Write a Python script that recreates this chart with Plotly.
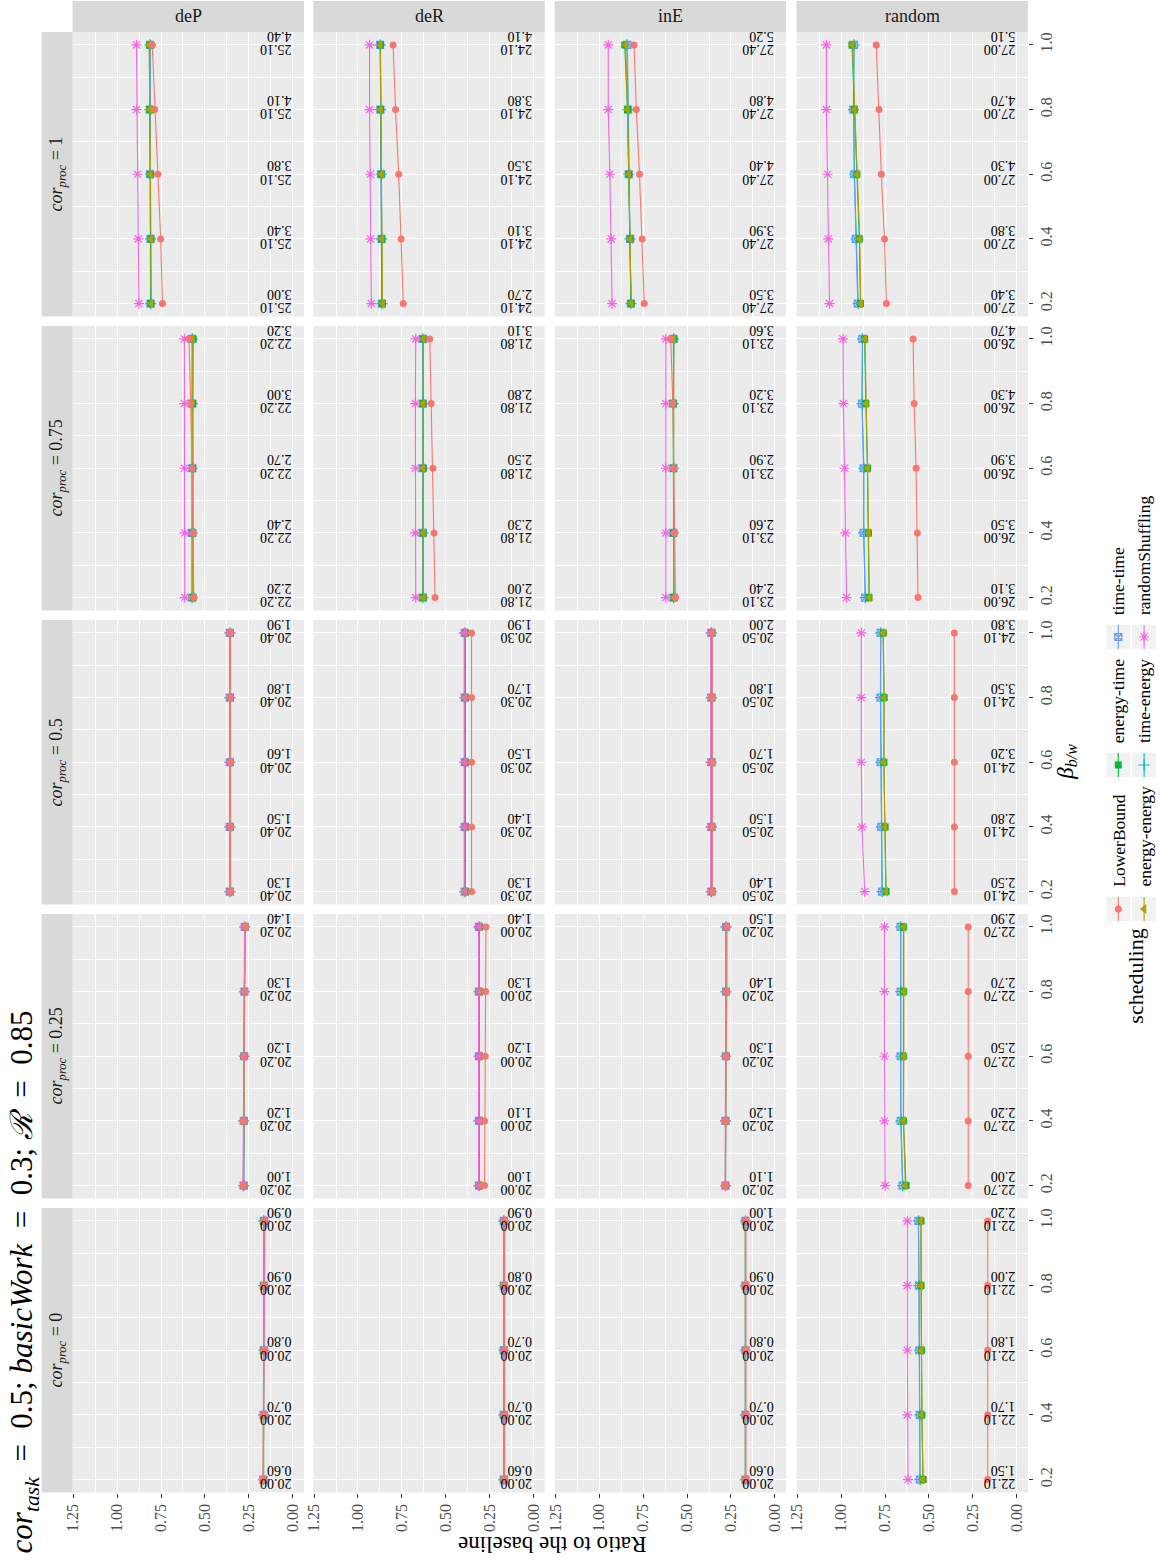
import plotly.graph_objects as go

W, H = 1160, 1560
FONT = "Liberation Serif"

# ---------------- data ----------------
METHODS = ["deP", "deR", "inE", "random"]
COR_PROC = ["1", "0.75", "0.5", "0.25", "0"]          # rows, top to bottom
BETA = [0.2, 0.4, 0.6, 0.8, 1.0]
BETA_TICKTEXT = ["0.2", "0.4", "0.6", "0.8", "1.0"]
RATIO_TICKS = [0, 0.25, 0.5, 0.75, 1.0, 1.25]
RATIO_TICKTEXT = ["0.00", "0.25", "0.50", "0.75", "1.00", "1.25"]
RATIO_MINOR = [0.125, 0.375, 0.625, 0.875, 1.125]
BETA_MINOR = [0.3, 0.5, 0.7, 0.9]

SCHEDULING = ["LowerBound", "energy-energy", "energy-time", "time-energy", "time-time", "randomShuffling"]
COLORS = ["#F8766D", "#B79F00", "#00BA38", "#00BFC4", "#619CFF", "#F564E3"]
SYMBOLS = ["circle", "triangle-left", "square", "cross-thin-open", "square-x-open", "asterisk-open"]
SIZES = [7, 8.5, 7, 8, 7, 8.5]

# values[row(cor_proc)][col(method)][beta]
LOWER_BOUND = [
    [[0.742, 0.752, 0.768, 0.786, 0.800], [0.742, 0.754, 0.768, 0.786, 0.800], [0.744, 0.756, 0.771, 0.789, 0.802], [0.742, 0.753, 0.771, 0.784, 0.800]],
    [[0.563, 0.567, 0.573, 0.581, 0.591], [0.561, 0.567, 0.573, 0.583, 0.591], [0.566, 0.570, 0.577, 0.581, 0.593], [0.562, 0.566, 0.573, 0.584, 0.590]],
    [[0.354, 0.354, 0.355, 0.355, 0.354], [0.353, 0.353, 0.353, 0.353, 0.353], [0.357, 0.357, 0.357, 0.357, 0.357], [0.355, 0.355, 0.355, 0.355, 0.355]],
    [[0.281, 0.281, 0.277, 0.273, 0.269], [0.279, 0.279, 0.275, 0.273, 0.271], [0.282, 0.282, 0.278, 0.273, 0.273], [0.276, 0.276, 0.276, 0.276, 0.276]],
    [[0.169, 0.166, 0.165, 0.165, 0.165], [0.164, 0.164, 0.164, 0.164, 0.164], [0.165, 0.165, 0.165, 0.165, 0.165], [0.165, 0.165, 0.165, 0.165, 0.165]],
]
ENERGY_ENERGY = [
    [[0.806, 0.807, 0.810, 0.814, 0.818], [0.860, 0.863, 0.866, 0.871, 0.873], [0.818, 0.823, 0.832, 0.840, 0.850], [0.888, 0.894, 0.908, 0.924, 0.936]],
    [[0.570, 0.570, 0.571, 0.571, 0.570], [0.628, 0.628, 0.630, 0.630, 0.628], [0.576, 0.576, 0.578, 0.578, 0.576], [0.839, 0.843, 0.849, 0.857, 0.864]],
    [[0.357, 0.357, 0.357, 0.357, 0.357], [0.390, 0.390, 0.390, 0.390, 0.390], [0.360, 0.360, 0.360, 0.360, 0.360], [0.745, 0.750, 0.757, 0.756, 0.761]],
    [[0.280, 0.280, 0.277, 0.275, 0.272], [0.310, 0.310, 0.310, 0.310, 0.310], [0.281, 0.281, 0.279, 0.278, 0.277], [0.634, 0.645, 0.643, 0.643, 0.643]],
    [[0.166, 0.166, 0.165, 0.164, 0.164], [0.169, 0.169, 0.169, 0.169, 0.169], [0.168, 0.168, 0.168, 0.168, 0.168], [0.535, 0.541, 0.543, 0.545, 0.546]],
]
ENERGY_TIME = [
    [[0.808, 0.808, 0.812, 0.815, 0.816], [0.862, 0.864, 0.868, 0.872, 0.872], [0.819, 0.824, 0.833, 0.839, 0.855], [0.890, 0.896, 0.910, 0.925, 0.938]],
    [[0.567, 0.569, 0.570, 0.569, 0.567], [0.629, 0.629, 0.629, 0.629, 0.629], [0.575, 0.577, 0.577, 0.579, 0.575], [0.841, 0.844, 0.850, 0.859, 0.866]],
    [[0.356, 0.356, 0.356, 0.356, 0.356], [0.389, 0.389, 0.389, 0.389, 0.389], [0.359, 0.359, 0.359, 0.359, 0.359], [0.744, 0.749, 0.756, 0.755, 0.760]],
    [[0.281, 0.281, 0.277, 0.275, 0.272], [0.309, 0.309, 0.309, 0.309, 0.309], [0.282, 0.282, 0.279, 0.278, 0.277], [0.630, 0.645, 0.645, 0.645, 0.645]],
    [[0.166, 0.166, 0.165, 0.164, 0.164], [0.168, 0.168, 0.168, 0.168, 0.168], [0.167, 0.167, 0.167, 0.167, 0.167], [0.533, 0.540, 0.542, 0.545, 0.545]],
]
TIME_ENERGY = [
    [[0.809, 0.810, 0.811, 0.813, 0.812], [0.863, 0.865, 0.867, 0.871, 0.873], [0.820, 0.825, 0.832, 0.837, 0.842], [0.903, 0.914, 0.924, 0.929, 0.926]],
    [[0.573, 0.572, 0.572, 0.572, 0.572], [0.630, 0.630, 0.630, 0.630, 0.630], [0.577, 0.577, 0.577, 0.579, 0.577], [0.862, 0.871, 0.871, 0.880, 0.878]],
    [[0.357, 0.357, 0.357, 0.357, 0.357], [0.390, 0.390, 0.390, 0.390, 0.390], [0.361, 0.361, 0.361, 0.361, 0.361], [0.766, 0.770, 0.774, 0.775, 0.774]],
    [[0.279, 0.279, 0.276, 0.275, 0.273], [0.310, 0.310, 0.310, 0.310, 0.310], [0.281, 0.281, 0.279, 0.278, 0.278], [0.649, 0.659, 0.660, 0.660, 0.660]],
    [[0.167, 0.166, 0.165, 0.165, 0.165], [0.169, 0.169, 0.169, 0.169, 0.169], [0.168, 0.168, 0.168, 0.168, 0.168], [0.550, 0.551, 0.554, 0.556, 0.559]],
]
TIME_TIME = [
    [[0.810, 0.810, 0.812, 0.814, 0.812], [0.864, 0.866, 0.868, 0.872, 0.874], [0.820, 0.824, 0.832, 0.836, 0.840], [0.905, 0.916, 0.925, 0.930, 0.927]],
    [[0.574, 0.573, 0.572, 0.573, 0.573], [0.631, 0.631, 0.631, 0.631, 0.631], [0.577, 0.578, 0.578, 0.580, 0.578], [0.863, 0.872, 0.872, 0.881, 0.879]],
    [[0.358, 0.358, 0.358, 0.358, 0.358], [0.391, 0.391, 0.391, 0.391, 0.391], [0.361, 0.361, 0.361, 0.361, 0.361], [0.767, 0.771, 0.775, 0.776, 0.775]],
    [[0.278, 0.278, 0.276, 0.275, 0.273], [0.311, 0.311, 0.311, 0.311, 0.311], [0.281, 0.281, 0.279, 0.278, 0.278], [0.650, 0.660, 0.661, 0.661, 0.661]],
    [[0.167, 0.166, 0.165, 0.165, 0.165], [0.170, 0.170, 0.170, 0.170, 0.170], [0.168, 0.168, 0.168, 0.168, 0.168], [0.551, 0.552, 0.555, 0.557, 0.560]],
]
RANDOM_SHUFFLING = [
    [[0.876, 0.880, 0.884, 0.890, 0.890], [0.924, 0.928, 0.930, 0.934, 0.934], [0.927, 0.932, 0.940, 0.949, 0.949], [1.066, 1.073, 1.077, 1.084, 1.084]],
    [[0.615, 0.615, 0.617, 0.617, 0.617], [0.671, 0.673, 0.673, 0.673, 0.671], [0.621, 0.621, 0.621, 0.621, 0.621], [0.969, 0.976, 0.980, 0.987, 0.989]],
    [[0.360, 0.360, 0.360, 0.360, 0.360], [0.395, 0.395, 0.395, 0.395, 0.395], [0.366, 0.366, 0.366, 0.366, 0.366], [0.866, 0.881, 0.885, 0.885, 0.885]],
    [[0.283, 0.280, 0.276, 0.276, 0.274], [0.313, 0.313, 0.313, 0.313, 0.313], [0.283, 0.282, 0.280, 0.279, 0.279], [0.749, 0.753, 0.753, 0.753, 0.753]],
    [[0.168, 0.167, 0.163, 0.160, 0.158], [0.168, 0.168, 0.168, 0.168, 0.168], [0.167, 0.167, 0.167, 0.167, 0.167], [0.619, 0.623, 0.623, 0.623, 0.623]],
]

# text labels in each panel: first line (constant per panel) and second line (per beta)
TEXT_A = [
    [25.10, 24.10, 27.40, 27.00],
    [22.20, 21.80, 23.10, 26.00],
    [20.40, 20.30, 20.50, 24.10],
    [20.20, 20.00, 20.20, 22.70],
    [20.00, 20.00, 20.00, 22.10],
]
TEXT_B = [
    [[3.00, 3.40, 3.80, 4.10, 4.40], [2.70, 3.10, 3.50, 3.80, 4.10], [3.50, 3.90, 4.40, 4.80, 5.20], [3.40, 3.80, 4.30, 4.70, 5.10]],
    [[2.20, 2.40, 2.70, 3.00, 3.20], [2.00, 2.30, 2.50, 2.80, 3.10], [2.40, 2.60, 2.90, 3.20, 3.60], [3.10, 3.50, 3.90, 4.30, 4.70]],
    [[1.30, 1.50, 1.60, 1.80, 1.90], [1.30, 1.40, 1.50, 1.70, 1.90], [1.40, 1.50, 1.70, 1.80, 2.00], [2.50, 2.80, 3.20, 3.50, 3.80]],
    [[1.00, 1.20, 1.20, 1.30, 1.40], [1.00, 1.10, 1.20, 1.30, 1.40], [1.10, 1.20, 1.30, 1.40, 1.50], [2.00, 2.20, 2.50, 2.70, 2.90]],
    [[0.60, 0.70, 0.80, 0.90, 0.90], [0.60, 0.70, 0.70, 0.80, 0.90], [0.60, 0.70, 0.80, 0.90, 1.00], [1.50, 1.70, 1.80, 2.00, 2.20]],
]

SERIES = [LOWER_BOUND, ENERGY_ENERGY, ENERGY_TIME, TIME_ENERGY, TIME_TIME, RANDOM_SHUFFLING]
DRAW_ORDER = [3, 4, 2, 1, 5, 0]

# ---------------- layout geometry (pixels) ----------------
COL_LEFT = [65.0, 307.5, 550.5, 794.0]
PANEL_W = 233.0
ROW_TOP = [32.0, 326.0, 620.0, 914.0, 1208.0]
PANEL_H = 284.5
STRIP_LEFT = [34.0, 65.0]
X_RANGE = [1.254, -0.064]
Y_RANGE = [0.16, 1.04]


def px(x):
    return x / W


def py(y):
    return 1 - y / H


fig = go.Figure()
layout = {}
shapes = []
annotations = []

tickfont = dict(family=FONT, size=16, color="#4D4D4D")

for r in range(5):
    for c in range(4):
        k = r * 4 + c + 1
        xname = "xaxis" if k == 1 else f"xaxis{k}"
        yname = "yaxis" if k == 1 else f"yaxis{k}"
        xr = "x" if k == 1 else f"x{k}"
        yr = "y" if k == 1 else f"y{k}"
        L = COL_LEFT[c]
        T = ROW_TOP[r]
        layout[xname] = dict(
            domain=[px(L), px(L + PANEL_W)], range=X_RANGE, anchor=yr,
            tickmode="array", tickvals=RATIO_TICKS, ticktext=RATIO_TICKTEXT,
            showticklabels=(r == 4), ticks="outside" if r == 4 else "",
            ticklen=4, tickwidth=1.1, tickcolor="#333333", tickangle=-90,
            tickfont=tickfont, showgrid=True, gridcolor="white", gridwidth=1.3,
            zeroline=False, showline=False, fixedrange=True,
            minor=dict(tickmode="array", tickvals=RATIO_MINOR, showgrid=True,
                       gridcolor="white", gridwidth=0.6, ticks=""),
        )
        layout[yname] = dict(
            domain=[py(T + PANEL_H), py(T)], range=Y_RANGE, anchor=xr, side="right",
            tickmode="array", tickvals=BETA, ticktext=BETA_TICKTEXT,
            showticklabels=(c == 3), ticks="outside" if c == 3 else "",
            ticklen=4, tickwidth=1.1, tickcolor="#333333", tickangle=-90,
            tickfont=tickfont, showgrid=True, gridcolor="white", gridwidth=1.3,
            zeroline=False, showline=False, fixedrange=True,
            minor=dict(tickmode="array", tickvals=BETA_MINOR, showgrid=True,
                       gridcolor="white", gridwidth=0.6, ticks=""),
        )
        # panel background
        shapes.append(dict(type="rect", xref="paper", yref="paper", layer="below",
                           x0=px(L), x1=px(L + PANEL_W), y0=py(T + PANEL_H), y1=py(T),
                           fillcolor="#EBEBEB", line=dict(width=0)))
        # lines
        for i in DRAW_ORDER:
            fig.add_trace(go.Scatter(
                x=SERIES[i][r][c], y=BETA, mode="lines", xaxis=xr, yaxis=yr,
                line=dict(color=COLORS[i], width=1.1), showlegend=False, hoverinfo="skip"))
        # markers
        for i in DRAW_ORDER:
            is_line_sym = SYMBOLS[i].endswith("-open")
            fig.add_trace(go.Scatter(
                x=SERIES[i][r][c], y=BETA, mode="markers", xaxis=xr, yaxis=yr,
                marker=dict(symbol=SYMBOLS[i], size=SIZES[i], color=COLORS[i],
                            line=dict(color=COLORS[i], width=1.2 if is_line_sym else 0)),
                showlegend=False, hoverinfo="skip"))
        # text labels
        for j, b in enumerate(BETA):
            annotations.append(dict(
                x=0, y=b, xref=xr, yref=yr, text=f"{TEXT_A[r][c]:.2f}", showarrow=False,
                textangle=180, xanchor="right", yanchor="middle", yshift=-4.5, borderpad=0,
                font=dict(family=FONT, size=14, color="black")))
            annotations.append(dict(
                x=0, y=b, xref=xr, yref=yr, text=f"{TEXT_B[r][c][j]:.2f}", showarrow=False,
                textangle=180, xanchor="right", yanchor="middle", yshift=9, borderpad=0,
                font=dict(family=FONT, size=14, color="black")))

# top strips (methods)
for c, m in enumerate(METHODS):
    L = COL_LEFT[c]
    shapes.append(dict(type="rect", xref="paper", yref="paper", layer="below",
                       x0=px(L), x1=px(L + PANEL_W), y0=py(32), y1=py(1),
                       fillcolor="#D9D9D9", line=dict(width=0)))
    annotations.append(dict(x=px(L + PANEL_W / 2), y=py(16.5), xref="paper", yref="paper",
                            text=m, showarrow=False, xanchor="center", yanchor="middle",
                            font=dict(family=FONT, size=18, color="#1A1A1A")))

# left strips (cor_proc)
for r, cp in enumerate(COR_PROC):
    T = ROW_TOP[r]
    shapes.append(dict(type="rect", xref="paper", yref="paper", layer="below",
                       x0=px(STRIP_LEFT[0]), x1=px(STRIP_LEFT[1]), y0=py(T + PANEL_H), y1=py(T),
                       fillcolor="#D9D9D9", line=dict(width=0)))
    annotations.append(dict(x=px(sum(STRIP_LEFT) / 2), y=py(T + PANEL_H / 2), xref="paper", yref="paper",
                            text=f"<i>cor</i><sub><i>proc</i></sub> = {cp}", showarrow=False,
                            textangle=-90, xanchor="center", yanchor="middle",
                            font=dict(family=FONT, size=18, color="#1A1A1A")))

# title
EQ = "&nbsp; =&nbsp; "
annotations.append(dict(
    x=px(16), y=py(1555), xref="paper", yref="paper", showarrow=False, textangle=-90,
    xanchor="center", yanchor="bottom",
    text=(f"<i>cor</i><sub><i>task</i></sub>{EQ}0.5; <i>basicWork</i>{EQ}0.3; "
          f"<i>ℛ</i>{EQ}0.85"),
    font=dict(family=FONT, size=31, color="black")))

# axis titles
annotations.append(dict(
    x=px(548), y=py(1545), xref="paper", yref="paper", showarrow=False, textangle=180,
    xanchor="center", yanchor="middle", text="Ratio to the baseline",
    font=dict(family=FONT, size=23, color="black")))
annotations.append(dict(
    x=px(1066), y=py(762), xref="paper", yref="paper", showarrow=False, textangle=-90,
    xanchor="center", yanchor="middle", text="<i>β</i><sub><i>b/w</i></sub>",
    font=dict(family=FONT, size=23, color="black")))

# ---------------- legend (drawn rotated) ----------------
LEG_X = [1118, 1144]
LEG_Y = [909, 765, 637]
KEY = 24
layout["xaxis21"] = dict(domain=[0, 1], range=[0, W], anchor="y21", visible=False, fixedrange=True)
layout["yaxis21"] = dict(domain=[0, 1], range=[H, 0], anchor="x21", visible=False, fixedrange=True)

annotations.append(dict(
    x=px(1135), y=py(1026), xref="paper", yref="paper", showarrow=False, textangle=-90,
    xanchor="center", yanchor="bottom", text="scheduling",
    font=dict(family=FONT, size=22, color="black")))

for i, name in enumerate(SCHEDULING):
    cx = LEG_X[i % 2]
    cy = LEG_Y[i // 2]
    shapes.append(dict(type="rect", xref="paper", yref="paper", layer="below",
                       x0=px(cx - KEY / 2), x1=px(cx + KEY / 2), y0=py(cy + KEY / 2), y1=py(cy - KEY / 2),
                       fillcolor="#F2F2F2", line=dict(width=0)))
    fig.add_trace(go.Scatter(x=[cx, cx], y=[cy - KEY / 2, cy + KEY / 2], mode="lines",
                             xaxis="x21", yaxis="y21", line=dict(color=COLORS[i], width=1.1),
                             showlegend=False, hoverinfo="skip"))
    is_line_sym = SYMBOLS[i].endswith("-open")
    fig.add_trace(go.Scatter(x=[cx], y=[cy], mode="markers", xaxis="x21", yaxis="y21",
                             marker=dict(symbol=SYMBOLS[i], size=SIZES[i], color=COLORS[i],
                                         line=dict(color=COLORS[i], width=1.2 if is_line_sym else 0)),
                             showlegend=False, hoverinfo="skip"))
    annotations.append(dict(
        x=px(cx), y=py(cy - KEY / 2 - 8), xref="paper", yref="paper", showarrow=False,
        textangle=-90, xanchor="center", yanchor="bottom", text=name,
        font=dict(family=FONT, size=17.5, color="black")))

fig.update_layout(
    width=W, height=H, margin=dict(l=0, r=0, t=0, b=0),
    paper_bgcolor="white", plot_bgcolor="rgba(0,0,0,0)",
    showlegend=False, shapes=shapes, annotations=annotations,
    font=dict(family=FONT), **layout,
)

fig.write_html("out.html", config={"displayModeBar": False},
               post_script="document.body.style.margin='0px';")
